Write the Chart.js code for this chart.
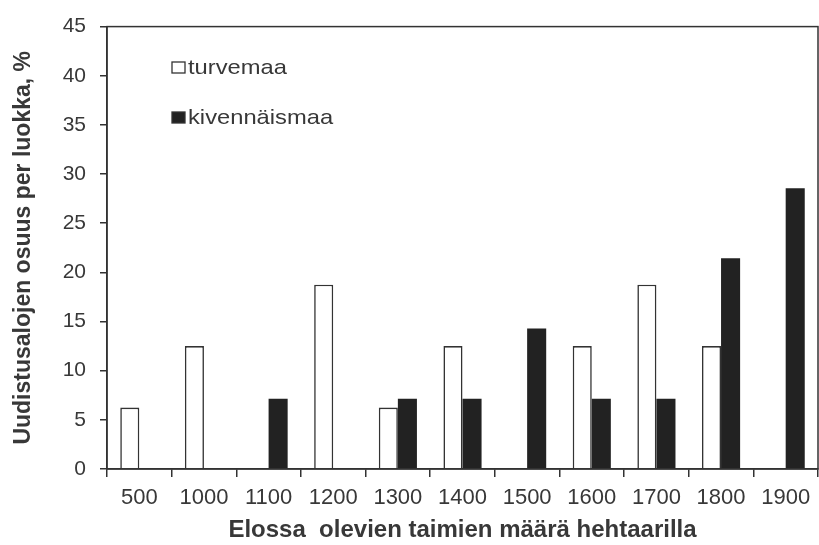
<!DOCTYPE html>
<html>
<head>
<meta charset="utf-8">
<script src="https://cdn.jsdelivr.net/npm/chart.js@4/dist/chart.umd.min.js"></script>
<style>
  html, body { margin: 0; padding: 0; background: #fff; }
  #wrap { width: 819px; height: 545px; }
</style>
</head>
<body>
<div id="wrap"><canvas id="chart" width="819" height="545"></canvas></div>
<script>
// DATA
const categories = ["500", "1000", "1100", "1200", "1300", "1400", "1500", "1600", "1700", "1800", "1900"];
const turvemaa = [6.25, 12.5, 0, 18.75, 6.25, 12.5, 0, 12.5, 18.75, 12.5, 0];
const kivennaismaa = [0, 0, 7.14, 0, 7.14, 7.14, 14.29, 7.14, 7.14, 21.43, 28.57];
const yTicks = [0, 5, 10, 15, 20, 25, 30, 35, 40, 45];

const textColor = "#383838";
const fontFam = "'Liberation Sans', Arial, sans-serif";

// frame + legend drawn inside the plot
const framePlugin = {
    id: "frame",
    afterDraw(chart) {
        const { ctx, chartArea: a } = chart;
        ctx.save();
        ctx.strokeStyle = "#333";
        ctx.lineWidth = 1.5;
        ctx.strokeRect(a.left, a.top, a.right - a.left, a.bottom - a.top);

        // legend
        const items = [
            { label: chart.data.datasets[0].label, fill: "#fff", y: 67 },
            { label: chart.data.datasets[1].label, fill: "#222", y: 117 }
        ];
        ctx.textBaseline = "middle";
        items.forEach(it => {
            ctx.fillStyle = it.fill;
            ctx.fillRect(172, it.y - 5, 13, 11);
            ctx.strokeStyle = "#333";
            ctx.lineWidth = 1.3;
            ctx.strokeRect(172, it.y - 5, 13, 11);
            ctx.save();
            ctx.translate(188, it.y);
            ctx.scale(1.13, 1);
            ctx.font = "21px " + fontFam;
            ctx.fillStyle = textColor;
            ctx.fillText(it.label, 0, 1);
            ctx.restore();
        });
        ctx.restore();
    }
};

new Chart(document.getElementById("chart"), {
    type: "bar",
    data: {
        labels: categories,
        datasets: [
            {
                label: "turvemaa",
                data: turvemaa,
                backgroundColor: "#fff",
                borderColor: "#333",
                borderWidth: 1.6,
                borderSkipped: "bottom"
            },
            {
                label: "kivennäismaa",
                data: kivennaismaa,
                backgroundColor: "#222",
                borderColor: "#222",
                borderWidth: 0
            }
        ]
    },
    options: {
        responsive: false,
        animation: false,
        layout: { padding: { top: 23, right: 1, left: 0, bottom: 0 } },
        datasets: {
            bar: { categoryPercentage: 0.59, barPercentage: 1.0 }
        },
        plugins: {
            legend: { display: false },
            tooltip: { enabled: false }
        },
        scales: {
            x: {
                offset: true,
                grid: {
                    offset: true,
                    drawOnChartArea: false,
                    drawTicks: true,
                    tickLength: 8,
                    color: "#333",
                    lineWidth: 1.5
                },
                border: { display: true, color: "#333", width: 1.5 },
                ticks: {
                    color: textColor,
                    padding: 8,
                    maxRotation: 0,
                    autoSkip: false,
                    font: { family: fontFam, size: 22 }
                },
                title: {
                    display: true,
                    text: "Elossa  olevien taimien määrä hehtaarilla",
                    color: textColor,
                    padding: { top: 0, bottom: 0 },
                    font: { family: fontFam, size: 24, weight: "bold" }
                },
                afterFit(scale) { scale.height = 76; }
            },
            y: {
                min: 0,
                max: 45,
                afterBuildTicks(scale) {
                    scale.ticks = yTicks.map(v => ({ value: v }));
                },
                grid: {
                    drawOnChartArea: false,
                    drawTicks: true,
                    tickLength: 7,
                    color: "#333",
                    lineWidth: 1.5
                },
                border: { display: true, color: "#333", width: 1.5 },
                ticks: {
                    color: textColor,
                    padding: 14,
                    font: { family: fontFam, size: 21 }
                },
                title: {
                    display: true,
                    text: "Uudistusalojen osuus per luokka, %",
                    color: textColor,
                    padding: { top: 10, bottom: 0 },
                    font: { family: fontFam, size: 23, weight: "bold" }
                },
                afterFit(scale) { scale.width = 107; }
            }
        }
    },
    plugins: [framePlugin]
});
</script>
</body>
</html>
